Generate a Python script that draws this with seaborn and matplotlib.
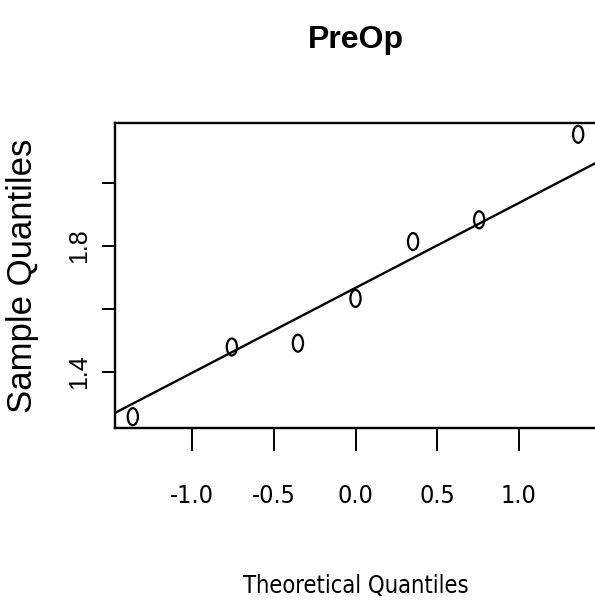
import numpy as np
import pandas as pd
import seaborn as sns
import matplotlib
matplotlib.use("Agg")
import matplotlib.pyplot as plt
from matplotlib.path import Path
from matplotlib.transforms import Affine2D

# normal QQ plot of PreOp
theoretical = [-1.365, -0.758, -0.353, 0.0, 0.353, 0.758, 1.365]
sample = [1.258, 1.479, 1.491, 1.633, 1.813, 1.882, 2.153]
x_ticks = [-1.0, -0.5, 0.0, 0.5, 1.0]
x_ticklabels = ["-1.0", "-0.5", "0.0", "0.5", "1.0"]
y_ticks = [1.4, 1.6, 1.8, 2.0]
y_ticklabels = ["1.4", "", "1.8", ""]
title = "PreOp"
xlabel = "Theoretical Quantiles"
ylabel = "Sample Quantiles"

df = pd.DataFrame({"theoretical": theoretical, "sample": sample})

sns.set_style("white", {"text.color": "black", "axes.labelcolor": "black",
                        "xtick.color": "black", "ytick.color": "black"})
narrow = ["Liberation Sans", "DejaVu Sans"]
wide = ["Liberation Sans", "DejaVu Sans"]
plt.rcParams["font.family"] = narrow

fig = plt.figure(figsize=(5.95, 6.06), dpi=100)
ax = fig.add_axes([115 / 595, 178 / 606, 481 / 595, 305 / 606])

# open ellipse marker (reference is squeezed sideways)
ellipse = Path.unit_circle().transformed(Affine2D().scale(0.6, 1.0))
sns.scatterplot(data=df, x="theoretical", y="sample", ax=ax, marker=ellipse,
                s=150, facecolor="none", edgecolor="black", linewidth=1.6,
                legend=False, zorder=3)

# qqline through the quartiles
q1, q3 = np.quantile(df["sample"], [0.25, 0.75])
z = 0.6744898
slope = (q3 - q1) / (2 * z)
intercept = q1 + slope * z
ax.axline((0, intercept), slope=slope, color="black", lw=1.7)

xr = df["theoretical"].max() - df["theoretical"].min()
yr = df["sample"].max() - df["sample"].min()
ax.set_xlim(df["theoretical"].min() - 0.04 * xr, df["theoretical"].max() + 0.04 * xr)
ax.set_ylim(df["sample"].min() - 0.04 * yr, df["sample"].max() + 0.04 * yr)

for s in ["left", "top", "bottom"]:
    ax.spines[s].set_visible(True)
    ax.spines[s].set_color("black")
    ax.spines[s].set_linewidth(1.7)
ax.spines["right"].set_visible(False)

ax.set_xticks(x_ticks)
ax.set_xticklabels(x_ticklabels, fontsize=18, family="DejaVu Sans", stretch="condensed")
ax.set_yticks(y_ticks)
ax.set_yticklabels(y_ticklabels, fontsize=18, family=wide, rotation=90, va="center")
ax.tick_params(axis="x", direction="out", length=16.5, width=1.4, pad=24, bottom=True)
ax.tick_params(axis="y", direction="out", length=9.4, width=1.4, pad=8, left=True)

ax.set_xlabel(xlabel, fontsize=17, family="DejaVu Sans", stretch="condensed")
ax.set_ylabel(ylabel, fontsize=25, family=wide)
ax.xaxis.set_label_coords(0.5, -0.478)
ax.yaxis.set_label_coords(-0.157, 0.5)
ax.set_title(title, fontsize=23, fontweight="bold", family=narrow, pad=54)

fig.savefig("out.png", dpi=100)
